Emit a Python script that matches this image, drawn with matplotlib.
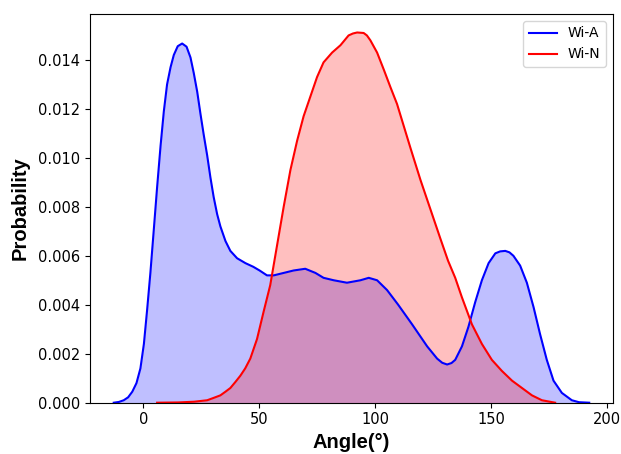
import matplotlib
matplotlib.use("Agg")
import matplotlib.pyplot as plt

series_names = ["Wi-A", "Wi-N"]

wia_angle = [-12.7, -10.5, -8.4, -6.5, -4.7, -2.9, -1.2, 0.3, 1.7, 3.1, 4.6, 6.0, 7.5,
             8.9, 10.3, 11.8, 13.2, 14.9, 16.8, 18.7, 20.4, 21.8, 23.3, 24.7, 26.1,
             27.6, 29.0, 30.4, 31.9, 33.3, 35.5, 37.6, 40.5, 44.1, 47.5, 50.2, 53.4,
             56.3, 60.6, 64.9, 69.9, 74.3, 77.8, 82.2, 87.9, 93.7, 97.3, 100.9, 105.2,
             110.0, 116.0, 122.5, 126.8, 129.0, 131.1, 133.0, 134.6, 137.5, 140.3,
             143.2, 146.1, 149.0, 151.9, 154.0, 156.2, 158.0, 159.7, 162.6, 165.5,
             168.4, 171.2, 174.1, 177.0, 180.6, 184.9, 188.0, 192.4]
wia_prob = [0.0, 0.00003, 0.0001, 0.00022, 0.00045, 0.0008, 0.0014, 0.0024, 0.0038,
            0.0053, 0.0071, 0.0088, 0.0105, 0.0119, 0.0130, 0.0137, 0.0142, 0.01456,
            0.01467, 0.01454, 0.0141, 0.01347, 0.0127, 0.0118, 0.01095, 0.0101,
            0.0092, 0.0084, 0.0077, 0.0072, 0.0066, 0.0062, 0.0059, 0.0057, 0.00555,
            0.0054, 0.0052, 0.0052, 0.0053, 0.0054, 0.00547, 0.0053, 0.0051, 0.0050,
            0.0049, 0.0050, 0.0051, 0.0050, 0.0046, 0.0040, 0.0032, 0.0023, 0.0018,
            0.00163, 0.00156, 0.00162, 0.00175, 0.0023, 0.0031, 0.0041, 0.0050, 0.0057,
            0.0061, 0.00618, 0.0062, 0.00614, 0.0060, 0.0056, 0.0049, 0.0039, 0.0028,
            0.00175, 0.0009, 0.0004, 0.0001, 0.00002, 0.0]

win_angle = [6.0, 15.0, 22.0, 27.6, 30.5, 33.3, 35.5, 37.6, 39.8, 41.9, 44.0, 46.2, 49.1,
             51.9, 54.8, 57.7, 60.6, 63.5, 66.4, 69.2, 72.1, 75.0, 77.8, 81.5, 85.1,
             88.6, 90.5, 92.3, 95.1, 96.5, 98.0, 100.9, 103.8, 106.6, 109.5, 112.4,
             115.3, 119.6, 123.9, 128.2, 131.5, 134.6, 137.5, 141.8, 146.1, 150.4,
             154.7, 159.1, 163.4, 167.7, 172.0, 177.7]
win_prob = [0.0, 0.00001, 0.00004, 0.0001, 0.0002, 0.0003, 0.00045, 0.0006, 0.00085,
            0.0011, 0.0014, 0.0018, 0.0026, 0.0037, 0.0048, 0.0064, 0.0080, 0.0095,
            0.0107, 0.0117, 0.0125, 0.0133, 0.0139, 0.0143, 0.0146, 0.0150, 0.01508,
            0.01512, 0.01510, 0.0150, 0.0148, 0.0143, 0.0136, 0.0129, 0.0122, 0.0113,
            0.0104, 0.0091, 0.0079, 0.0067, 0.0058, 0.0051, 0.0043, 0.0032, 0.0024,
            0.00175, 0.0013, 0.0009, 0.0006, 0.0003, 0.0001, 0.0]

fig = plt.figure(figsize=(6.21, 4.54), dpi=100)
ax = fig.add_axes([0.1449, 0.113, 0.8422, 0.8562])

for ang, prob, col, name in [(wia_angle, wia_prob, "blue", series_names[0]),
                             (win_angle, win_prob, "red", series_names[1])]:
    ax.fill_between(ang, prob, 0, color=col, alpha=0.25, linewidth=0)
    ax.plot(ang, prob, color=col, linewidth=1.5, label=name)

ax.set_ylim(bottom=0)
ax.tick_params(labelsize=10.5)
lab_font = dict(family="Liberation Sans", weight="bold", size=14.5)
ax.set_xlabel("Angle(°)", fontdict=lab_font, labelpad=4)
ax.set_ylabel("Probability", fontdict=lab_font, labelpad=6)
ax.legend(loc="upper right", fontsize=10)

fig.savefig("out.png", dpi=100)
